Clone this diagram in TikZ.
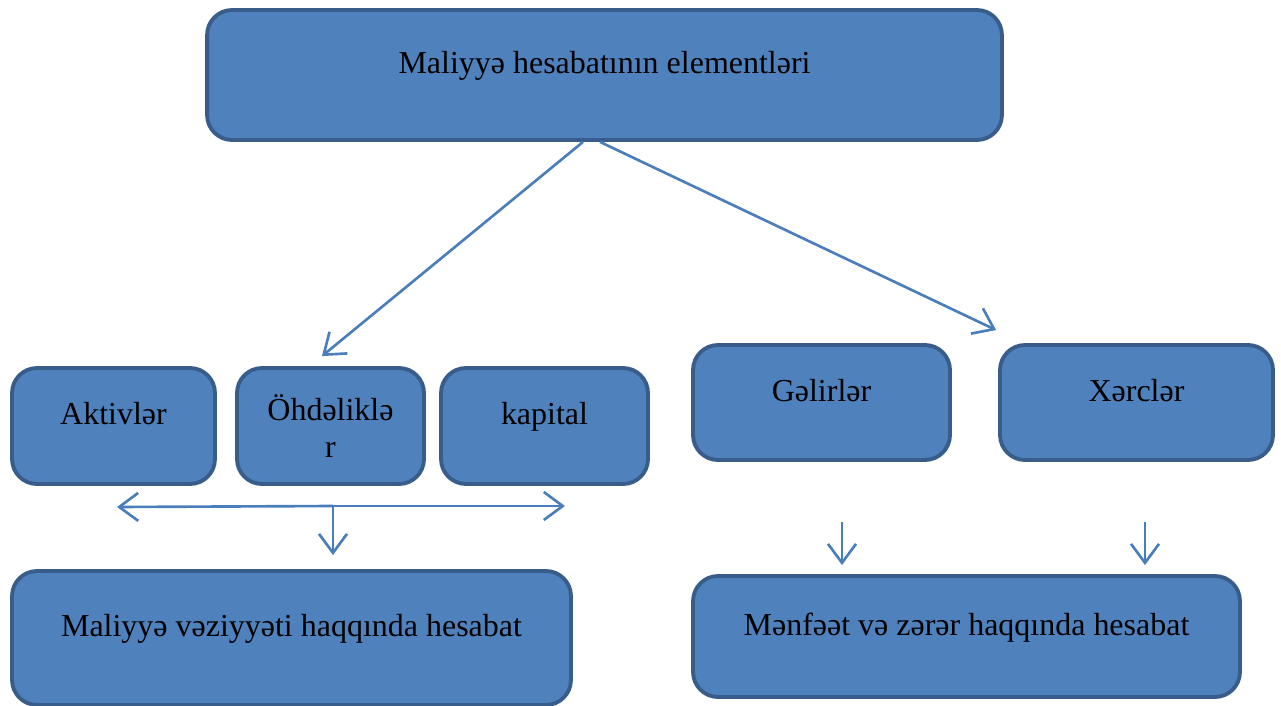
\documentclass[tikz,border=0pt]{standalone}
\usepackage{fontspec}
\setmainfont{Liberation Serif}
\usepackage{tikz}
\usetikzlibrary{arrows.meta, positioning, calc}
\definecolor{boxfill}{HTML}{4F81BD}
\definecolor{boxline}{HTML}{385D8A}
\definecolor{arrowcol}{HTML}{4A7EBB}
\tikzset{
  elem/.style={
    rectangle, rounded corners=0.5cm,
    draw=boxline, line width=2.2pt,
    fill=boxfill, text=black,
    font=\fontsize{18.2}{21.5}\selectfont,
    text height=0.45cm, text depth=0.51cm,
    align=center, inner sep=0pt,
  },
  twoline/.style={text height=, text depth=},
  arrow/.style={-{Straight Barb[length=0.38cm, width=0.56cm]}, line width=1.5pt, color=arrowcol},
}
\begin{document}
\begin{tikzpicture}[x=0.02cm, y=-0.02cm]
  \useasboundingbox (0,0) rectangle (1281,706);

  \node[elem, minimum width=15.9cm, minimum height=2.6cm] (top) at (604.5,75) {Maliyyə hesabatının elementləri};
  \node[elem, minimum width=4.06cm, minimum height=2.32cm] (akt) at (113.5,426) {Aktivlər};
  \node[elem, twoline, minimum width=3.74cm, minimum height=2.32cm] (ohd) at (330.5,426) {Öhdəliklə\\r};
  \node[elem, minimum width=4.14cm, minimum height=2.32cm] (kap) at (544.5,426) {kapital};
  \node[elem, minimum width=5.14cm, minimum height=2.3cm] (gel) at (821.5,402.5) {Gəlirlər};
  \node[elem, minimum width=5.46cm, minimum height=2.3cm] (xer) at (1136.5,402.5) {Xərclər};
  \node[elem, minimum width=11.18cm, minimum height=2.68cm] (mvh) at (291.5,638) {Maliyyə vəziyyəti haqqında hesabat};
  \node[elem, minimum width=10.94cm, minimum height=2.42cm] (mzh) at (966.5,636.5) {Mənfəət və zərər haqqında hesabat};

  \coordinate (split) at (333,506);
  \coordinate (lft) at (117,507);
  \coordinate (rgt) at (565,506);

  \draw[arrow] ([xshift=-0.43cm]top.south) -- ([xshift=-0.17cm, yshift=0.2cm]ohd.north);
  \draw[arrow] ([xshift=-0.09cm]top.south) -- ([xshift=-0.04cm, yshift=0.26cm]xer.north west);
  \draw[arrow] (split) -- (lft);
  \draw[arrow] (split) -- (rgt);
  \draw[arrow] (split) -- ([yshift=0.28cm]split |- mvh.north);
  \draw[arrow] ([xshift=0.41cm, yshift=-1.2cm]gel.south) coordinate (g) -- ([yshift=0.18cm]g |- mzh.north);
  \draw[arrow] ([xshift=0.17cm, yshift=-1.2cm]xer.south) coordinate (x) -- ([yshift=0.18cm]x |- mzh.north);

\end{tikzpicture}
\end{document}
